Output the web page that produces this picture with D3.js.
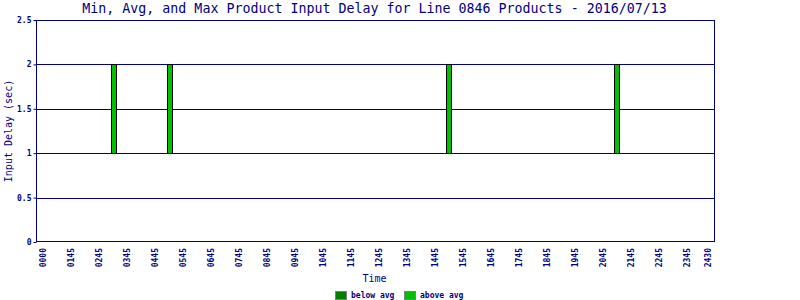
<!DOCTYPE html>
<html>
<head>
<meta charset="utf-8">
<script src="https://cdn.jsdelivr.net/npm/d3@7"></script>
<style>
    body { margin: 0; background: #fff; }
    text { font-family: "DejaVu Sans Mono", monospace; fill: #000080; }
</style>
</head>
<body>
<svg id="chart" width="800" height="300"></svg>
<script>
const title = 'Min, Avg, and Max Product Input Delay for Line 0846 Products - 2016/07/13';

// x ticks: hour index and label
const tickHours = [0, 1, 2, 3, 4, 5, 6, 7, 8, 9, 10, 11, 12, 13, 14, 15, 16, 17, 18, 19, 20, 21, 22, 23, 23.75];
const tickLabels = ['0000', '0145', '0245', '0345', '0445', '0545', '0645', '0745', '0845', '0945',
    '1045', '1145', '1245', '1345', '1445', '1545', '1645', '1745', '1845', '1945',
    '2045', '2145', '2245', '2345', '2430'];

// one entry per product sample
const sampleHours = [2.5, 4.5, 14.5, 20.5];
const minDelay = [1, 1, 1, 1];
const avgDelay = [1, 1, 1, 1];
const maxDelay = [2, 2, 2, 2];

const yTicks = [0, 0.5, 1, 1.5, 2, 2.5];
const legendItems = [
    { label: 'below avg', color: '#008000' },
    { label: 'above avg', color: '#00c000' }
];

const NAVY = '#000080';
const margin = { left: 36, right: 85, top: 20, bottom: 58 };
const W = 800, H = 300;

const svg = d3.select('#chart');

const x = d3.scaleLinear().domain([-0.25, 24]).range([margin.left, W - margin.right]);
const y = d3.scaleLinear().domain([0, 2.5]).range([H - margin.bottom, margin.top]);

// grid lines
svg.append('g')
    .selectAll('line')
    .data(yTicks.filter(d => d > 0 && d < 2.5))
    .join('line')
    .attr('x1', margin.left).attr('x2', W - margin.right)
    .attr('y1', d => Math.round(y(d)) + 0.5).attr('y2', d => Math.round(y(d)) + 0.5)
    .attr('stroke', NAVY);

// bars: below avg (min -> avg) and above avg (avg -> max)
const BAR_W = 5;
const bars = svg.append('g');
sampleHours.forEach((h, i) => {
    if (avgDelay[i] > minDelay[i]) {
        bars.append('rect')
            .attr('x', Math.round(x(h) - BAR_W / 2) + 0.5)
            .attr('y', Math.round(y(avgDelay[i])) + 0.5)
            .attr('width', BAR_W)
            .attr('height', Math.round(y(minDelay[i])) - Math.round(y(avgDelay[i])))
            .attr('fill', legendItems[0].color)
            .attr('stroke', '#000');
    }
    if (maxDelay[i] > avgDelay[i]) {
        bars.append('rect')
            .attr('x', Math.round(x(h) - BAR_W / 2) + 0.5)
            .attr('y', Math.round(y(maxDelay[i])) + 0.5)
            .attr('width', BAR_W)
            .attr('height', Math.round(y(avgDelay[i])) - Math.round(y(maxDelay[i])))
            .attr('fill', legendItems[1].color)
            .attr('stroke', '#000');
    }
});

// plot frame
svg.append('rect')
    .attr('x', margin.left + 0.5).attr('y', margin.top + 0.5)
    .attr('width', W - margin.left - margin.right - 1)
    .attr('height', H - margin.top - margin.bottom - 1)
    .attr('fill', 'none')
    .attr('stroke', NAVY);

// y axis
const yAxis = svg.append('g')
    .attr('transform', `translate(${margin.left + 0.5},0)`)
    .call(d3.axisLeft(y).tickValues(yTicks).tickSize(3).tickFormat(d3.format('')));
yAxis.select('.domain').remove();
yAxis.selectAll('.tick line').attr('stroke', NAVY);
yAxis.selectAll('.tick text')
    .attr('x', -5)
    .style('font-size', '8px')
    .style('font-weight', 'bold')
    .style('fill', NAVY);

// x axis labels (rotated)
svg.append('g')
    .selectAll('text')
    .data(tickHours)
    .join('text')
    .attr('transform', d => `translate(${x(d) + 3},${H - margin.bottom + 6}) rotate(-90)`)
    .attr('text-anchor', 'end')
    .style('font-size', '8px')
    .style('font-weight', 'bold')
    .text((d, i) => tickLabels[i]);

// title
svg.append('text')
    .attr('x', (margin.left + W - margin.right) / 2 - 1)
    .attr('y', 13)
    .attr('text-anchor', 'middle')
    .style('font-size', '13.3px')
    .text(title);

// axis titles
svg.append('text')
    .attr('x', (margin.left + W - margin.right) / 2 - 1)
    .attr('y', 282)
    .attr('text-anchor', 'middle')
    .style('font-size', '10px')
    .text('Time');

svg.append('text')
    .attr('transform', `translate(12,${(margin.top + H - margin.bottom) / 2}) rotate(-90)`)
    .attr('text-anchor', 'middle')
    .style('font-size', '10px')
    .text('Input Delay (sec)');

// legend
const legend = svg.append('g')
    .selectAll('g')
    .data(legendItems)
    .join('g')
    .attr('transform', (d, i) => `translate(${335 + i * 69},291)`);
legend.append('rect')
    .attr('x', 0.5).attr('y', 0.5)
    .attr('width', 11).attr('height', 8)
    .attr('fill', d => d.color)
    .attr('stroke', '#808080');
legend.append('text')
    .attr('x', 16).attr('y', 7)
    .style('font-size', '8px')
    .style('font-weight', 'bold')
    .text(d => d.label);
</script>
</body>
</html>
